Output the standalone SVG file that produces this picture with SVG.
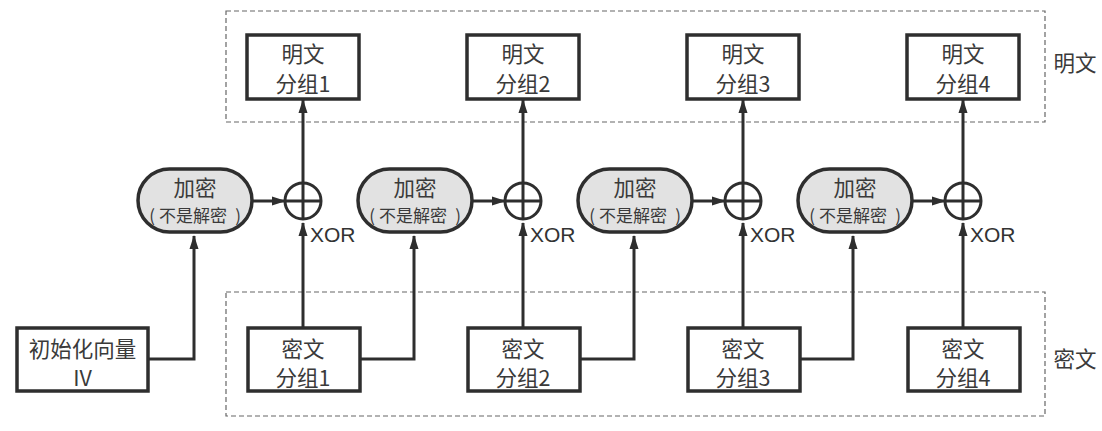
<svg xmlns="http://www.w3.org/2000/svg" width="1102" height="431" viewBox="0 0 1102 431">
<defs>
<marker id="ah" markerWidth="14" markerHeight="10" refX="13" refY="5" orient="auto" markerUnits="userSpaceOnUse">
<path d="M0,0.5 L14,5 L0,9.5 Z" fill="#2e2e2e"/>
</marker>
</defs>
<style>
.grp{fill:none;stroke:#666;stroke-width:1.2;stroke-dasharray:5 3}
.box{fill:#fff;stroke:#2e2e2e;stroke-width:3.5}
.pill{fill:#e2e2e2;stroke:#2e2e2e;stroke-width:3.5}
.xor{fill:none;stroke:#2e2e2e;stroke-width:3}
.ln{fill:none;stroke:#2e2e2e;stroke-width:3}
.t{font-family:"Noto Sans CJK SC","Liberation Sans",sans-serif;fill:#3a3a3a;text-anchor:middle}
.big{font-size:21.5px}
.sm{font-size:17px}
.lab{font-family:"Liberation Sans","Noto Sans CJK SC",sans-serif;font-size:21px;fill:#333}
</style>
<rect width="1102" height="431" fill="#fff"/>
<g id="plain-group">
<rect class="grp" x="226" y="11" width="819" height="111"/>
<text class="t big" x="1075" y="71">明文</text>
</g>
<g id="cipher-group">
<rect class="grp" x="226" y="292" width="819" height="124"/>
<text class="t big" x="1075" y="367">密文</text>
</g>
<g id="connectors">
<line class="ln" x1="303" y1="183" x2="303" y2="100" marker-end="url(#ah)"/>
<line class="ln" x1="523" y1="183" x2="523" y2="100" marker-end="url(#ah)"/>
<line class="ln" x1="743" y1="183" x2="743" y2="100" marker-end="url(#ah)"/>
<line class="ln" x1="963" y1="183" x2="963" y2="100" marker-end="url(#ah)"/>
<line class="ln" x1="252" y1="201" x2="285" y2="201" marker-end="url(#ah)"/>
<line class="ln" x1="472" y1="201" x2="505" y2="201" marker-end="url(#ah)"/>
<line class="ln" x1="692" y1="201" x2="725" y2="201" marker-end="url(#ah)"/>
<line class="ln" x1="912" y1="201" x2="945" y2="201" marker-end="url(#ah)"/>
<line class="ln" x1="303" y1="328" x2="303" y2="223" marker-end="url(#ah)"/>
<line class="ln" x1="523" y1="328" x2="523" y2="223" marker-end="url(#ah)"/>
<line class="ln" x1="743" y1="328" x2="743" y2="223" marker-end="url(#ah)"/>
<line class="ln" x1="963" y1="328" x2="963" y2="223" marker-end="url(#ah)"/>
<polyline class="ln" points="148,359 194,359 194,236" marker-end="url(#ah)"/>
<polyline class="ln" points="360,359 414,359 414,236" marker-end="url(#ah)"/>
<polyline class="ln" points="580,359 634,359 634,236" marker-end="url(#ah)"/>
<polyline class="ln" points="800,359 853,359 853,236" marker-end="url(#ah)"/>
</g>
<g id="xor1"><circle class="xor" cx="303" cy="201" r="18"/><line class="ln" x1="285" y1="201" x2="321" y2="201"/><line class="ln" x1="303" y1="183" x2="303" y2="219"/><text class="lab" x="310" y="242">XOR</text></g>
<g id="xor2"><circle class="xor" cx="523" cy="201" r="18"/><line class="ln" x1="505" y1="201" x2="541" y2="201"/><line class="ln" x1="523" y1="183" x2="523" y2="219"/><text class="lab" x="530" y="242">XOR</text></g>
<g id="xor3"><circle class="xor" cx="743" cy="201" r="18"/><line class="ln" x1="725" y1="201" x2="761" y2="201"/><line class="ln" x1="743" y1="183" x2="743" y2="219"/><text class="lab" x="750" y="242">XOR</text></g>
<g id="xor4"><circle class="xor" cx="963" cy="201" r="18"/><line class="ln" x1="945" y1="201" x2="981" y2="201"/><line class="ln" x1="963" y1="183" x2="963" y2="219"/><text class="lab" x="970" y="242">XOR</text></g>
<g id="enc1"><rect class="pill" x="138" y="169" width="114" height="63" rx="31.5"/><text class="t big" x="195" y="196">加密</text><text class="t sm" x="195" y="222"><tspan x="152">(</tspan><tspan x="193">不是解密</tspan><tspan x="238">)</tspan></text></g>
<g id="enc2"><rect class="pill" x="358" y="169" width="114" height="63" rx="31.5"/><text class="t big" x="415" y="196">加密</text><text class="t sm" x="415" y="222"><tspan x="372">(</tspan><tspan x="413">不是解密</tspan><tspan x="458">)</tspan></text></g>
<g id="enc3"><rect class="pill" x="578" y="169" width="114" height="63" rx="31.5"/><text class="t big" x="635" y="196">加密</text><text class="t sm" x="635" y="222"><tspan x="592">(</tspan><tspan x="633">不是解密</tspan><tspan x="678">)</tspan></text></g>
<g id="enc4"><rect class="pill" x="798" y="169" width="114" height="63" rx="31.5"/><text class="t big" x="855" y="196">加密</text><text class="t sm" x="855" y="222"><tspan x="812">(</tspan><tspan x="853">不是解密</tspan><tspan x="898">)</tspan></text></g>
<g id="p1"><rect class="box" x="247" y="35" width="112" height="64"/><text class="t big" x="303" y="62">明文</text><text class="t big" x="303" y="92">分组1</text></g>
<g id="p2"><rect class="box" x="467" y="35" width="112" height="64"/><text class="t big" x="523" y="62">明文</text><text class="t big" x="523" y="92">分组2</text></g>
<g id="p3"><rect class="box" x="687" y="35" width="112" height="64"/><text class="t big" x="743" y="62">明文</text><text class="t big" x="743" y="92">分组3</text></g>
<g id="p4"><rect class="box" x="907" y="35" width="112" height="64"/><text class="t big" x="963" y="62">明文</text><text class="t big" x="963" y="92">分组4</text></g>
<g id="iv"><rect class="box" x="17" y="328" width="131" height="63"/><text class="t big" x="82.5" y="357">初始化向量</text><text class="t big" x="82.5" y="386">IV</text></g>
<g id="c1"><rect class="box" x="248" y="328" width="112" height="63"/><text class="t big" x="303" y="357">密文</text><text class="t big" x="303" y="386">分组1</text></g>
<g id="c2"><rect class="box" x="468" y="328" width="112" height="63"/><text class="t big" x="523" y="357">密文</text><text class="t big" x="523" y="386">分组2</text></g>
<g id="c3"><rect class="box" x="688" y="328" width="112" height="63"/><text class="t big" x="743" y="357">密文</text><text class="t big" x="743" y="386">分组3</text></g>
<g id="c4"><rect class="box" x="908" y="328" width="112" height="63"/><text class="t big" x="963" y="357">密文</text><text class="t big" x="963" y="386">分组4</text></g>
</svg>
